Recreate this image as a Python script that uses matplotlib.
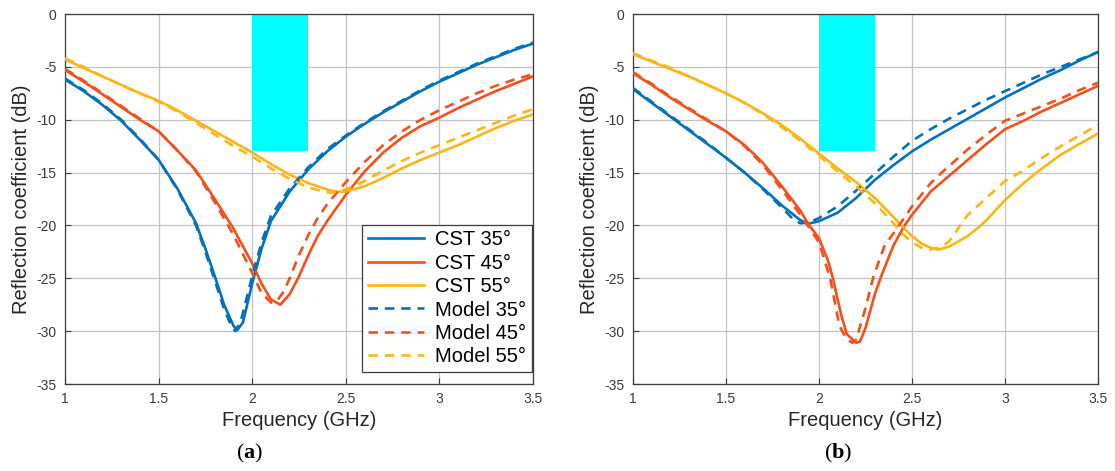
import matplotlib
matplotlib.use("Agg")
import matplotlib.pyplot as plt
from matplotlib.patches import Rectangle

plt.rcParams['font.family'] = ['Liberation Sans', 'DejaVu Sans']
plt.rcParams['axes.unicode_minus'] = False
plt.rcParams['mathtext.fontset'] = 'custom'
plt.rcParams['mathtext.rm'] = 'Liberation Serif'
plt.rcParams['mathtext.bf'] = 'Liberation Serif:bold'

# ---------------- data: panel (a) ----------------
a_cst35_f = [1.0, 1.1, 1.2, 1.3, 1.4, 1.5, 1.6, 1.7, 1.75, 1.8, 1.85, 1.9, 1.92, 1.95, 2.0, 2.05, 2.1, 2.2, 2.3, 2.4, 2.5, 2.6, 2.7, 2.8, 2.9, 3.0, 3.1, 3.2, 3.3, 3.4, 3.5]
a_cst35_v = [-6.2, -7.3, -8.6, -10.1, -11.9, -13.8, -16.5, -19.8, -22.2, -24.8, -27.5, -29.5, -29.9, -29.2, -25.5, -22.2, -19.6, -16.8, -14.7, -13.0, -11.6, -10.4, -9.3, -8.3, -7.3, -6.4, -5.6, -4.8, -4.1, -3.4, -2.8]
a_mod35_f = [1.0, 1.1, 1.2, 1.3, 1.4, 1.5, 1.6, 1.7, 1.75, 1.8, 1.85, 1.89, 1.91, 1.94, 2.0, 2.05, 2.1, 2.2, 2.3, 2.4, 2.5, 2.6, 2.7, 2.8, 2.9, 3.0, 3.1, 3.2, 3.3, 3.4, 3.5]
a_mod35_v = [-6.1, -7.2, -8.5, -10.0, -11.8, -13.8, -16.6, -20.0, -22.5, -25.2, -27.9, -29.6, -30.0, -29.0, -24.8, -21.6, -19.1, -16.5, -14.5, -12.8, -11.5, -10.3, -9.2, -8.2, -7.2, -6.3, -5.5, -4.7, -4.0, -3.3, -2.7]

a_cst45_f = [1.0, 1.1, 1.2, 1.3, 1.4, 1.5, 1.6, 1.7, 1.8, 1.9, 2.0, 2.05, 2.1, 2.15, 2.2, 2.25, 2.3, 2.35, 2.4, 2.5, 2.6, 2.7, 2.8, 2.9, 3.0, 3.1, 3.2, 3.3, 3.4, 3.5]
a_cst45_v = [-5.3, -6.4, -7.6, -8.8, -10.0, -11.1, -12.9, -14.8, -17.5, -20.3, -23.6, -25.5, -27.0, -27.5, -26.5, -24.8, -22.8, -21.0, -19.6, -17.1, -14.9, -13.1, -11.7, -10.6, -9.8, -8.9, -8.1, -7.3, -6.6, -5.9]
a_mod45_f = [1.0, 1.1, 1.2, 1.3, 1.4, 1.5, 1.6, 1.7, 1.8, 1.9, 2.0, 2.05, 2.1, 2.13, 2.17, 2.2, 2.25, 2.3, 2.35, 2.4, 2.5, 2.6, 2.7, 2.8, 2.9, 3.0, 3.1, 3.2, 3.3, 3.4, 3.5]
a_mod45_v = [-5.2, -6.3, -7.5, -8.7, -9.9, -11.1, -12.9, -14.9, -17.8, -20.9, -24.5, -26.4, -27.3, -27.2, -26.2, -25.0, -22.8, -20.9, -19.3, -18.0, -15.9, -14.0, -12.4, -11.1, -10.0, -9.1, -8.3, -7.5, -6.8, -6.2, -5.7]

a_cst55_f = [1.0, 1.1, 1.2, 1.3, 1.4, 1.5, 1.6, 1.7, 1.8, 1.9, 2.0, 2.1, 2.2, 2.3, 2.4, 2.45, 2.5, 2.6, 2.7, 2.8, 2.9, 3.0, 3.1, 3.2, 3.3, 3.4, 3.5]
a_cst55_v = [-4.3, -5.1, -5.9, -6.7, -7.5, -8.2, -9.1, -10.1, -11.1, -12.1, -13.1, -14.2, -15.2, -16.0, -16.6, -16.8, -16.8, -16.3, -15.5, -14.6, -13.8, -13.1, -12.4, -11.6, -10.8, -10.1, -9.5]
a_mod55_f = [1.0, 1.1, 1.2, 1.3, 1.4, 1.5, 1.6, 1.7, 1.8, 1.9, 2.0, 2.1, 2.2, 2.3, 2.38, 2.42, 2.5, 2.6, 2.7, 2.8, 2.9, 3.0, 3.1, 3.2, 3.3, 3.4, 3.5]
a_mod55_v = [-4.2, -5.0, -5.9, -6.7, -7.5, -8.3, -9.2, -10.3, -11.4, -12.5, -13.5, -14.6, -15.6, -16.4, -16.8, -16.9, -16.6, -15.8, -14.8, -13.9, -13.1, -12.4, -11.7, -11.0, -10.3, -9.6, -9.0]

# ---------------- data: panel (b) ----------------
b_cst35_f = [1.0, 1.1, 1.2, 1.3, 1.4, 1.5, 1.6, 1.7, 1.8, 1.9, 1.94, 2.0, 2.1, 2.2, 2.3, 2.4, 2.5, 2.6, 2.7, 2.8, 2.9, 3.0, 3.1, 3.2, 3.3, 3.4, 3.5]
b_cst35_v = [-7.1, -8.4, -9.7, -11.0, -12.3, -13.6, -15.0, -16.5, -18.1, -19.5, -19.85, -19.6, -18.8, -17.4, -15.7, -14.3, -13.0, -11.9, -10.9, -9.9, -8.9, -7.9, -7.0, -6.1, -5.3, -4.4, -3.6]
b_mod35_f = [1.0, 1.1, 1.2, 1.3, 1.4, 1.5, 1.6, 1.7, 1.8, 1.86, 1.9, 1.95, 2.0, 2.1, 2.2, 2.3, 2.4, 2.5, 2.6, 2.7, 2.8, 2.9, 3.0, 3.1, 3.2, 3.3, 3.4, 3.5]
b_mod35_v = [-7.0, -8.3, -9.6, -10.9, -12.2, -13.6, -15.0, -16.6, -18.3, -19.4, -19.8, -19.7, -19.3, -18.2, -16.7, -15.1, -13.5, -12.0, -10.9, -9.9, -9.0, -8.1, -7.3, -6.5, -5.7, -5.0, -4.3, -3.6]

b_cst45_f = [1.0, 1.1, 1.2, 1.3, 1.4, 1.5, 1.6, 1.7, 1.8, 1.9, 1.94, 2.0, 2.05, 2.075, 2.1, 2.12, 2.15, 2.2, 2.22, 2.25, 2.3, 2.33, 2.4, 2.46, 2.5, 2.6, 2.72, 2.8, 2.9, 3.0, 3.1, 3.2, 3.3, 3.4, 3.5]
b_cst45_v = [-5.6, -6.7, -7.9, -9.0, -10.1, -11.1, -12.4, -14.1, -16.3, -18.6, -19.8, -21.2, -23.4, -25.0, -27.0, -28.5, -30.3, -31.1, -31.0, -29.7, -26.5, -25.0, -21.9, -20.0, -19.0, -16.8, -15.0, -13.8, -12.3, -10.9, -10.1, -9.2, -8.4, -7.6, -6.8]
b_mod45_f = [1.0, 1.1, 1.2, 1.3, 1.4, 1.5, 1.6, 1.7, 1.8, 1.9, 2.0, 2.06, 2.11, 2.15, 2.18, 2.2, 2.25, 2.29, 2.35, 2.43, 2.5, 2.6, 2.66, 2.8, 2.9, 3.0, 3.1, 3.2, 3.3, 3.4, 3.5]
b_mod45_v = [-5.5, -6.6, -7.8, -8.9, -10.0, -11.1, -12.5, -14.3, -16.6, -19.0, -21.6, -25.0, -29.5, -30.8, -31.1, -30.8, -27.8, -25.0, -22.0, -20.0, -18.2, -16.0, -15.0, -12.8, -11.4, -10.1, -9.4, -8.7, -8.0, -7.2, -6.5]

b_cst55_f = [1.0, 1.1, 1.2, 1.3, 1.4, 1.5, 1.6, 1.7, 1.8, 1.9, 2.0, 2.1, 2.2, 2.3, 2.4, 2.47, 2.5, 2.55, 2.6, 2.64, 2.7, 2.8, 2.87, 2.9, 3.0, 3.1, 3.17, 3.2, 3.3, 3.4, 3.5]
b_cst55_v = [-3.8, -4.5, -5.2, -5.9, -6.7, -7.5, -8.4, -9.4, -10.5, -11.8, -13.2, -14.6, -15.9, -17.4, -19.2, -20.5, -21.0, -21.7, -22.1, -22.3, -22.0, -21.0, -20.0, -19.5, -17.6, -16.0, -15.0, -14.6, -13.3, -12.3, -11.3]
b_mod55_f = [1.0, 1.1, 1.2, 1.3, 1.4, 1.5, 1.6, 1.7, 1.8, 1.9, 2.0, 2.1, 2.2, 2.3, 2.4, 2.45, 2.5, 2.55, 2.59, 2.65, 2.7, 2.76, 2.8, 2.9, 3.0, 3.08, 3.2, 3.3, 3.4, 3.5]
b_mod55_v = [-3.7, -4.4, -5.1, -5.9, -6.7, -7.5, -8.4, -9.5, -10.7, -12.0, -13.4, -14.9, -16.3, -17.9, -19.8, -20.8, -21.6, -22.1, -22.3, -22.1, -21.5, -20.0, -19.0, -17.4, -15.8, -15.0, -13.6, -12.5, -11.5, -10.5]

# ---------------- labels / ticks ----------------
x_ticks = [1, 1.5, 2, 2.5, 3, 3.5]
x_tick_labels = ['1', '1.5', '2', '2.5', '3', '3.5']
y_ticks = [0, -5, -10, -15, -20, -25, -30, -35]
y_tick_labels = ['0', '-5', '-10', '-15', '-20', '-25', '-30', '-35']
band_f = [2.0, 2.3]
band_top, band_bottom = 0, -13
series_names = ['CST 35°', 'CST 45°', 'CST 55°', 'Model 35°', 'Model 45°', 'Model 55°']

colors = ['#0072BD', '#F5501C', '#FDB515']

fig = plt.figure(figsize=(11.15, 4.71), dpi=100)
W, H = 1115, 471
axA = fig.add_axes([65 / W, 1 - 384 / H, 468 / W, 370 / H])
axB = fig.add_axes([633 / W, 1 - 384 / H, 465 / W, 370 / H])

panels = [
    (axA, [(a_cst35_f, a_cst35_v), (a_cst45_f, a_cst45_v), (a_cst55_f, a_cst55_v)],
          [(a_mod35_f, a_mod35_v), (a_mod45_f, a_mod45_v), (a_mod55_f, a_mod55_v)]),
    (axB, [(b_cst35_f, b_cst35_v), (b_cst45_f, b_cst45_v), (b_cst55_f, b_cst55_v)],
          [(b_mod35_f, b_mod35_v), (b_mod45_f, b_mod45_v), (b_mod55_f, b_mod55_v)]),
]

for ax, cst, mod in panels:
    ax.set_xlim(1, 3.5)
    ax.set_ylim(-35, 0)
    ax.set_xticks(x_ticks)
    ax.set_xticklabels(x_tick_labels)
    ax.set_yticks(y_ticks)
    ax.set_yticklabels(y_tick_labels)
    ax.grid(True, color='#c4c4c4', lw=0.9, zorder=0)
    ax.set_axisbelow(True)
    for s in ax.spines.values():
        s.set_color('#3c3c3c')
        s.set_linewidth(0.9)
    ax.tick_params(direction='in', length=4, width=0.8, colors='#3c3c3c',
                   labelcolor='#3a3a3a', labelsize=10, pad=6)
    ax.add_patch(Rectangle((band_f[0], band_bottom), band_f[1] - band_f[0],
                           band_top - band_bottom, facecolor='#00FFFF',
                           edgecolor='none', zorder=1.5))
    for (f, v), c in zip(cst, colors):
        ax.plot(f, v, color=c, lw=1.9, solid_joinstyle='round', zorder=3)
    for (f, v), c in zip(mod, colors):
        ax.plot(f, v, color=c, lw=1.9, ls=(0, (3.6, 2.6)), zorder=3)
    ax.set_xlabel('Frequency (GHz)', fontsize=14.5, color='#262626', labelpad=3)
    ax.set_ylabel('Reflection coefficient (dB)', fontsize=14.5, color='#262626', labelpad=4)

handles = axA.get_lines()
leg = axA.legend(handles, series_names, loc='lower right',
                 bbox_to_anchor=(532 / W, 1 - 372 / H), bbox_transform=fig.transFigure,
                 fontsize=14.5, frameon=True, fancybox=False, framealpha=1,
                 edgecolor='#3c3c3c', handlelength=2.8, handletextpad=0.55,
                 labelspacing=0.22, borderpad=0.28, borderaxespad=0)
leg.get_frame().set_linewidth(0.9)

fig.text(250 / W, 1 - 453 / H, r'($\mathbf{a}$)', ha='center', va='center',
         fontsize=16, family='Liberation Serif')
fig.text(838 / W, 1 - 453 / H, r'($\mathbf{b}$)', ha='center', va='center',
         fontsize=16, family='Liberation Serif')

fig.savefig('out.png', dpi=100)
